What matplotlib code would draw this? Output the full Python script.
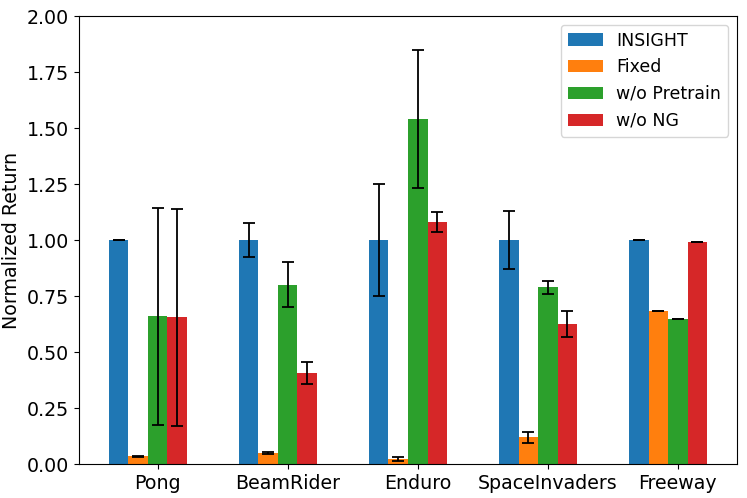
import matplotlib
matplotlib.use("Agg")
import matplotlib.pyplot as plt
import numpy as np

games = ["Pong", "BeamRider", "Enduro", "SpaceInvaders", "Freeway"]
series = ["INSIGHT", "Fixed", "w/o Pretrain", "w/o NG"]
colors = ["#1f77b4", "#ff7f0e", "#2ca02c", "#d62728"]

insight = [1.0, 1.0, 1.0, 1.0, 1.0]
insight_err = [0.0, 0.075, 0.25, 0.13, 0.0]
fixed = [0.035, 0.05, 0.023, 0.12, 0.685]
fixed_err = [0.002, 0.005, 0.01, 0.025, 0.0]
pretrain = [0.66, 0.80, 1.54, 0.789, 0.649]
pretrain_err = [0.485, 0.10, 0.31, 0.028, 0.0]
nong = [0.655, 0.405, 1.08, 0.626, 0.993]
nong_err = [0.485, 0.05, 0.045, 0.058, 0.0]

values = [insight, fixed, pretrain, nong]
errors = [insight_err, fixed_err, pretrain_err, nong_err]

fs = 13.7
fig = plt.figure(figsize=(7.47, 4.98), dpi=100)
ax = fig.add_axes([79/747, 34/498, 658/747, 448/498])

x = np.arange(len(games))
w = 0.15
for i, (vals, errs) in enumerate(zip(values, errors)):
    ax.bar(x + (i - 2) * w, vals, w, yerr=errs, color=colors[i], label=series[i],
           capsize=4, error_kw=dict(elinewidth=1.3, capthick=1.3, ecolor="black"))

ax.set_xticks(x)
ax.set_xticklabels(games, fontsize=fs)
ax.set_ylim(0, 2.0)
ticks = np.arange(0, 2.01, 0.25)
ax.set_yticks(ticks)
ax.set_yticklabels([f"{v:.2f}" for v in ticks], fontsize=fs)
ax.set_ylabel("Normalized Return", fontsize=fs)
ax.legend(loc="upper right", fontsize=12.5)
fig.savefig("out.png", dpi=100)
